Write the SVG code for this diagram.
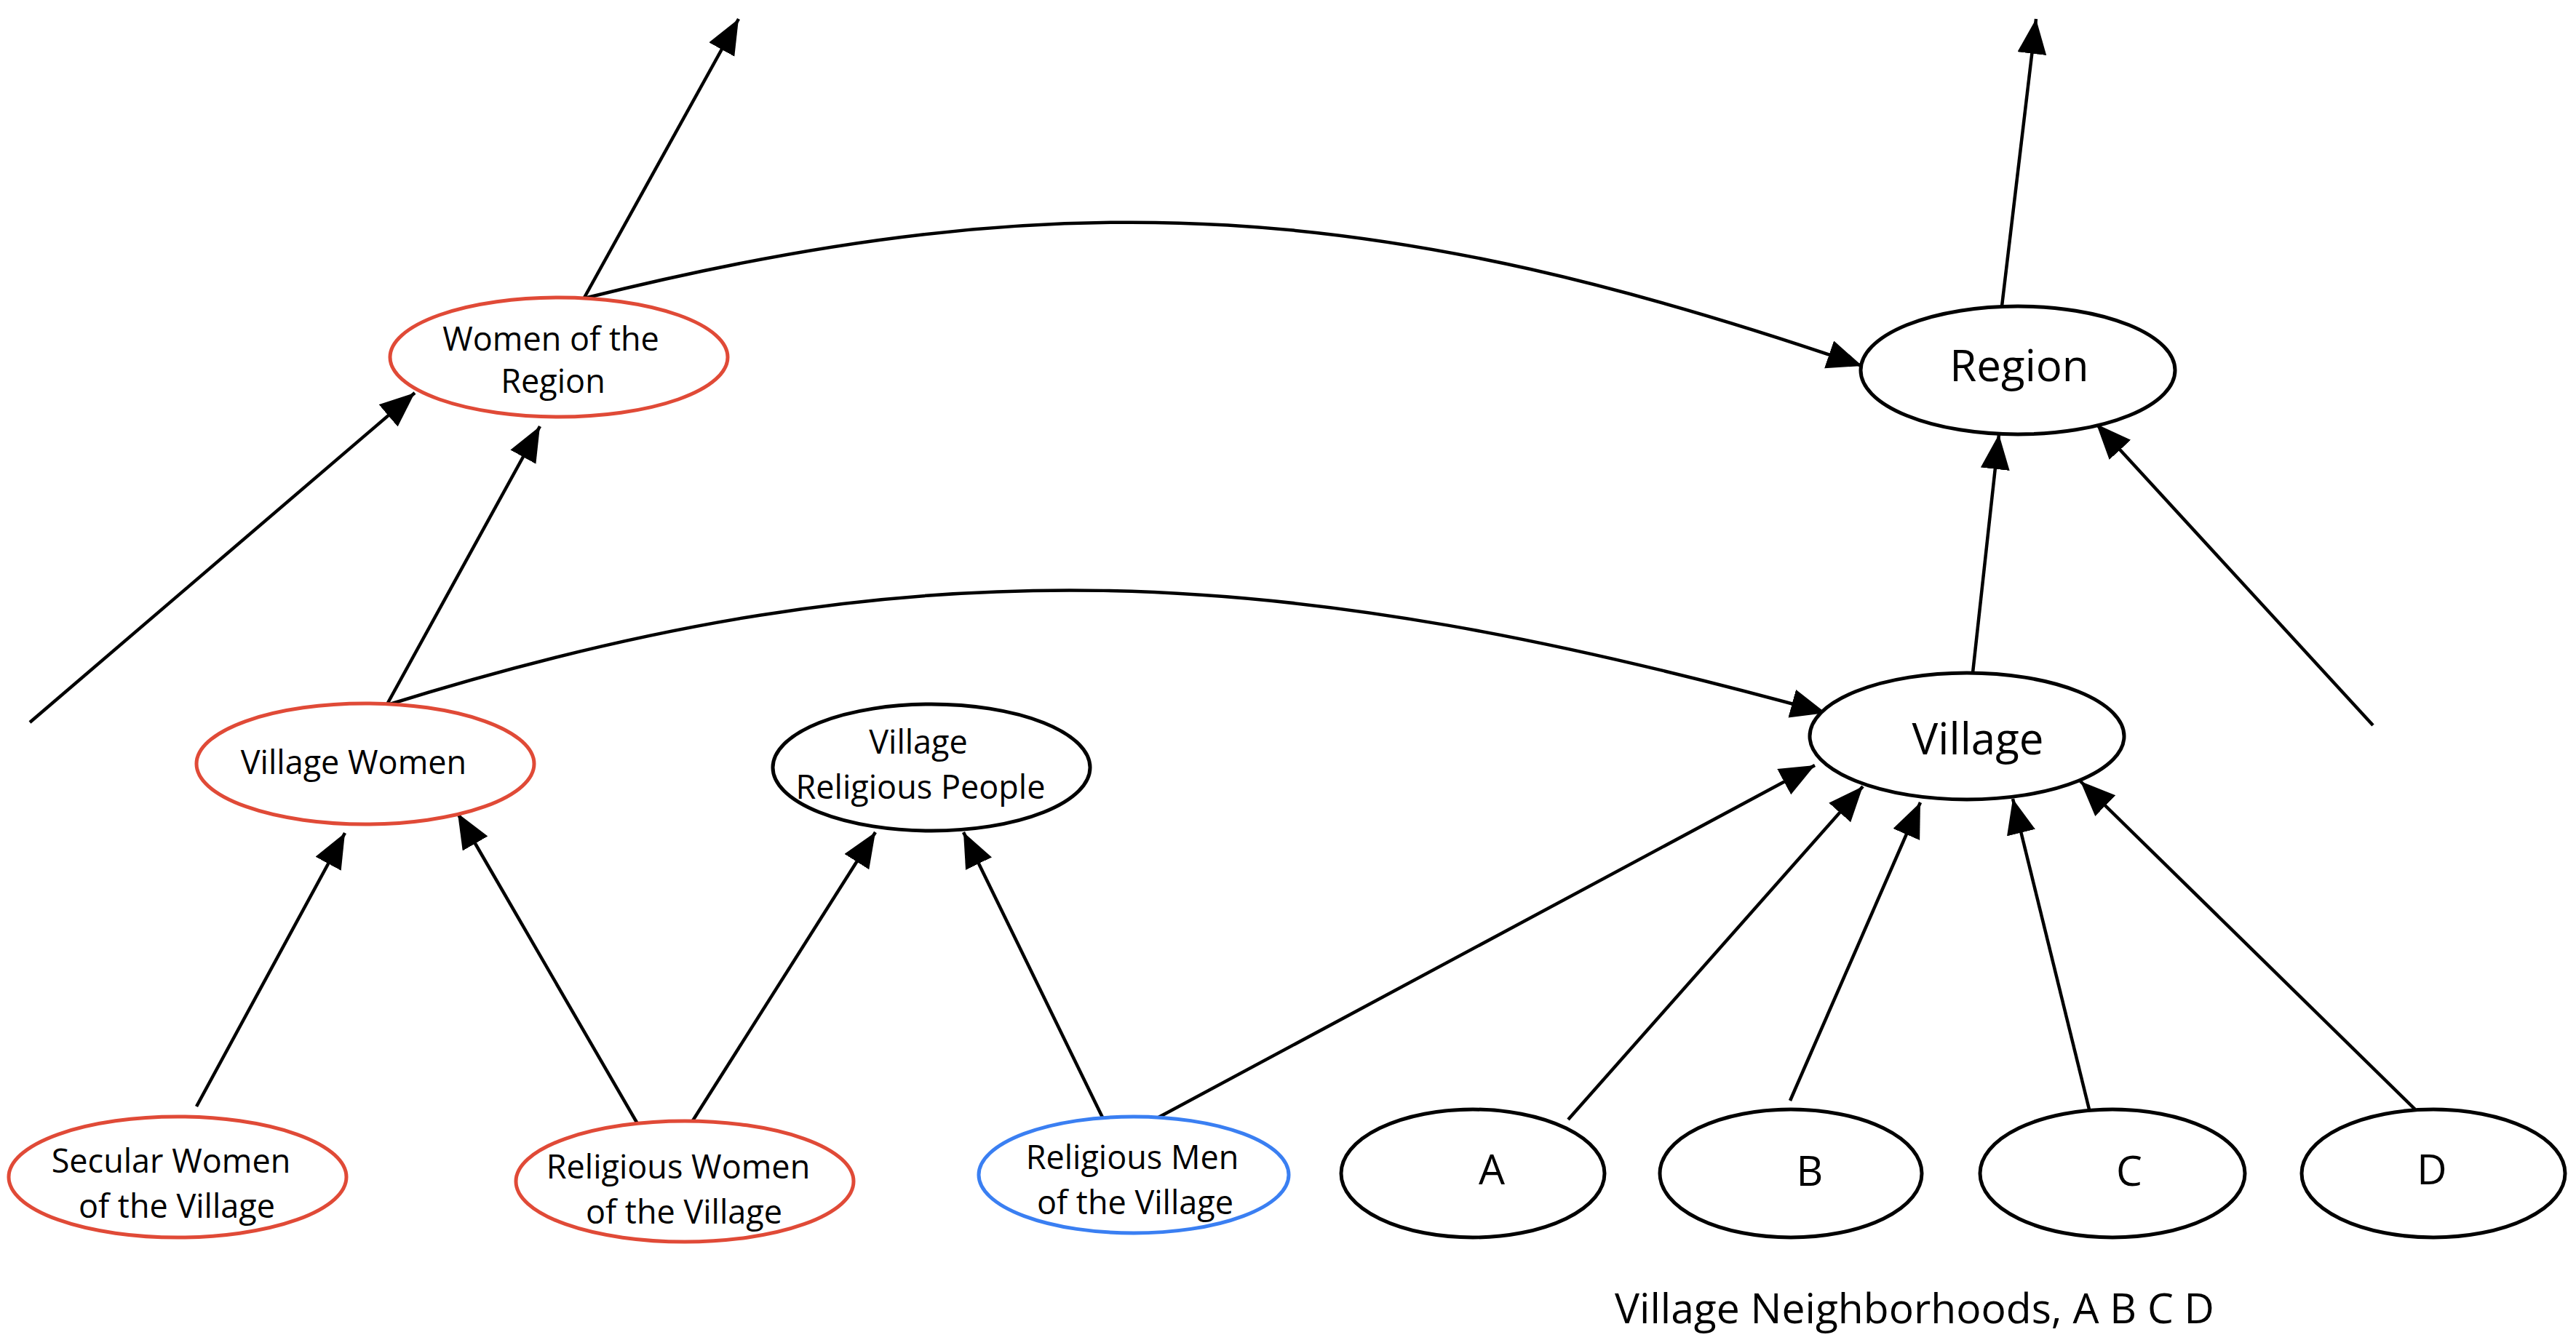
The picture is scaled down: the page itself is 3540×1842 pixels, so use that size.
<svg xmlns="http://www.w3.org/2000/svg" width="3540" height="1842" viewBox="0 0 3540 1842">
<style>
.n{fill:#fff;stroke-width:5}
.k{stroke:#000}
.r{stroke:#e04a37}
.b{stroke:#3a7ff2}
text{font-family:"Open Sans","Noto Sans","Liberation Sans",sans-serif;fill:#000;text-anchor:middle}
.s{font-size:45px}
.m{font-size:60px}
.l{font-size:57px}
.c{fill:none;stroke:#000;stroke-width:4.5;marker-end:url(#arr)}
</style>
<defs>
<marker id="arr" markerUnits="userSpaceOnUse" markerWidth="50" markerHeight="42" refX="48" refY="20" orient="auto">
<path d="M0,0 L48,20 L0,40 Z" fill="#000"/>
</marker>
</defs>
<rect width="3540" height="1842" fill="#fff"/>
<g id="connectors">
<path class="c" d="M803,410 C1472,243 1906,278 2559,503"/>
<path class="c" d="M529,970 C1264,740 1767,775 2509,980"/>
<path class="c" d="M803,409 L1015,26"/>
<path class="c" d="M41,993 L570,540"/>
<path class="c" d="M532,968 L742,586"/>
<path class="c" d="M2751,421 L2798,26"/>
<path class="c" d="M2711,925 L2747,597"/>
<path class="c" d="M3261,997 L2881,583"/>
<path class="c" d="M270,1521 L474,1145"/>
<path class="c" d="M878,1548 L629,1118"/>
<path class="c" d="M951,1542 L1203,1144"/>
<path class="c" d="M1518,1542 L1324,1144"/>
<path class="c" d="M1590,1537 L2494,1052"/>
<path class="c" d="M2155,1539 L2560,1081"/>
<path class="c" d="M2460,1513 L2639,1103"/>
<path class="c" d="M2871,1525 L2766,1098"/>
<path class="c" d="M3319,1525 L2859,1074"/>
</g>
<g id="women-of-the-region">
<ellipse class="n r" cx="768" cy="491" rx="232" ry="82"/>
<text class="s" x="757" y="482">Women of the</text>
<text class="s" x="760" y="540">Region</text>
</g>
<g id="region">
<ellipse class="n k" cx="2773" cy="509" rx="216" ry="88"/>
<text class="m" x="2775" y="524">Region</text>
</g>
<g id="village">
<ellipse class="n k" cx="2703" cy="1012" rx="216" ry="87"/>
<text class="m" x="2718" y="1037">Village</text>
</g>
<g id="village-women">
<ellipse class="n r" cx="502" cy="1050" rx="232" ry="83"/>
<text class="s" x="486" y="1064">Village Women</text>
</g>
<g id="village-religious-people">
<ellipse class="n k" cx="1280" cy="1055" rx="218" ry="87"/>
<text class="s" x="1262" y="1036">Village</text>
<text class="s" x="1265" y="1098">Religious People</text>
</g>
<g id="secular-women">
<ellipse class="n r" cx="244" cy="1618" rx="232" ry="83"/>
<text class="s" x="235" y="1612">Secular Women</text>
<text class="s" x="243" y="1674">of the Village</text>
</g>
<g id="religious-women">
<ellipse class="n r" cx="941" cy="1624" rx="232" ry="83"/>
<text class="s" x="932" y="1620">Religious Women</text>
<text class="s" x="940" y="1682">of the Village</text>
</g>
<g id="religious-men">
<ellipse class="n b" cx="1558" cy="1615" rx="213" ry="80"/>
<text class="s" x="1556" y="1607">Religious Men</text>
<text class="s" x="1560" y="1669">of the Village</text>
</g>
<g id="a">
<ellipse class="n k" cx="2024" cy="1613" rx="181" ry="88"/>
<text class="l" x="2050" y="1628">A</text>
</g>
<g id="b">
<ellipse class="n k" cx="2461" cy="1613" rx="180" ry="88"/>
<text class="l" x="2487" y="1630">B</text>
</g>
<g id="c">
<ellipse class="n k" cx="2903" cy="1613" rx="182" ry="88"/>
<text class="l" x="2926" y="1630">C</text>
</g>
<g id="d">
<ellipse class="n k" cx="3344" cy="1613" rx="181" ry="88"/>
<text class="l" x="3342" y="1628">D</text>
</g>
<g id="caption">
<text class="l" x="2631" y="1819">Village Neighborhoods, A B C D</text>
</g>
</svg>
